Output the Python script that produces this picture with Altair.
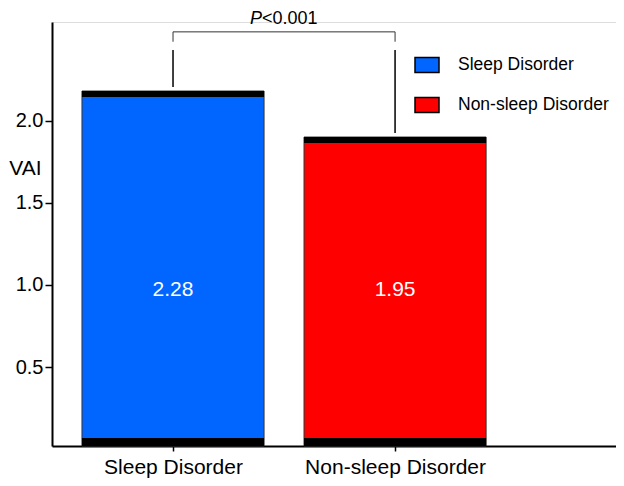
import altair as alt
import pandas as pd

groups = ["Sleep Disorder", "Non-sleep Disorder"]
group_pos = [1, 2]
bar_heights = [2.18, 1.90]
bar_labels = ["2.28", "1.95"]
err_upper = [2.43, 2.43]
colors = ["#0066FF", "#FF0000"]
y_ticks = [0.5, 1.0, 1.5, 2.0]
bracket_y = 2.54
bracket_drop = 2.48
p_parts = ["P", "<0.001"]

FONT = "Liberation Sans"

df = pd.DataFrame({"group": groups, "pos": group_pos, "h": bar_heights,
                   "label": bar_labels, "up": err_upper})
bracket_df = pd.DataFrame({"x1": [min(group_pos)], "x2": [max(group_pos)],
                           "y": [bracket_y], "ydrop": [bracket_drop],
                           "mid": [sum(group_pos) / len(group_pos)]})
drops_df = pd.DataFrame({"pos": group_pos, "y": [bracket_y] * 2, "ydrop": [bracket_drop] * 2})

label_expr = " : ".join(
    [f"datum.value == {p} ? '{g}'" for p, g in zip(group_pos[:-1], groups[:-1])]
) + f" : '{groups[-1]}'"

x_scale = alt.Scale(domain=[0.455, 2.995], nice=False, zero=False)
y_scale = alt.Scale(domain=[0.02, 2.6], nice=False, zero=False, clamp=True)

x_axis = alt.Axis(values=group_pos, labelExpr=label_expr, title=None, tickSize=5,
                  tickWidth=1.5, domainWidth=2, labelFontSize=21, labelPadding=5,
                  labelLimit=400, grid=False, labelColor="black", tickColor="black",
                  domainColor="black", labelOverlap=False, labelFlush=False, labelFont=FONT)
y_axis = alt.Axis(values=y_ticks, format=".1f", title="VAI", titleAngle=0, titleX=-27,
                  titleY=146, titleAlign="center", titleBaseline="middle", titleFontSize=21,
                  titleFontWeight="normal", titleFont=FONT, titleColor="black",
                  labelFontSize=20, labelFont=FONT, labelColor="black", tickSize=7,
                  tickWidth=1.5, domainWidth=2, grid=False, labelPadding=2,
                  tickColor="black", domainColor="black")


def X(field):
    return alt.X(field, type="quantitative", scale=x_scale, axis=x_axis)


def Y(field):
    return alt.Y(field, type="quantitative", scale=y_scale, axis=y_axis)


base = alt.Chart(df).transform_calculate(
    x1="datum.pos - 0.41", x2="datum.pos + 0.41"
)

bars = base.mark_bar(stroke="#333333", strokeWidth=1, opacity=1).encode(
    x=X("x1"), x2="x2", y=Y("h"), y2=alt.Y2(datum=0),
    color=alt.Color("group:N", scale=alt.Scale(domain=groups, range=colors),
                    legend=alt.Legend(title=None, orient="none", legendX=362, legendY=30,
                                      symbolType="M-1,-0.625H1V0.625H-1Z", symbolSize=576,
                                      symbolStrokeColor="black", symbolStrokeWidth=1.5,
                                      symbolOpacity=1, labelFontSize=17.5, labelFont=FONT,
                                      labelColor="black", rowPadding=16, labelOffset=18,
                                      labelLimit=400)),
)

top_band = base.mark_rule(color="black", strokeWidth=6, yOffset=3).encode(
    x=X("x1"), x2="x2", y=Y("h"))

bottom_band = base.mark_rule(color="black", strokeWidth=8, yOffset=-4).encode(
    x=X("x1"), x2="x2", y=alt.Y(datum=0, scale=y_scale, axis=y_axis))

err = base.mark_rule(color="black", strokeWidth=1.5, yOffset=-4).encode(
    x=X("pos"), y=Y("h"), y2="up")

bracket_h = alt.Chart(bracket_df).mark_rule(color="#333333", strokeWidth=1).encode(
    x=X("x1"), x2="x2", y=Y("y"))
bracket_v = alt.Chart(drops_df).mark_rule(color="#333333", strokeWidth=1).encode(
    x=X("pos"), y=Y("ydrop"), y2="y")

p_italic = alt.Chart(bracket_df).mark_text(
    text=p_parts[0], font=FONT, fontSize=18, fontStyle="italic", align="right",
    baseline="alphabetic", dx=-22, dy=-8, color="black").encode(x=X("mid"), y=Y("y"))
p_rest = alt.Chart(bracket_df).mark_text(
    text=p_parts[1], font=FONT, fontSize=18, align="left",
    baseline="alphabetic", dx=-22, dy=-8, color="black").encode(x=X("mid"), y=Y("y"))

values = base.mark_text(color="white", font=FONT, fontSize=21, baseline="middle").encode(
    x=X("pos"), y=alt.Y(datum=0.97, scale=y_scale, axis=y_axis), text="label:N")

chart = alt.layer(bars, top_band, bottom_band, err, bracket_h, bracket_v,
                  p_italic, p_rest, values).properties(
    width=564, height=424, autosize="none",
    padding={"left": 44, "top": 14, "right": 0, "bottom": 32},
).configure_view(stroke=None).configure(font=FONT)

chart.save("out.html", embed_options={"renderer": "svg", "actions": False})
